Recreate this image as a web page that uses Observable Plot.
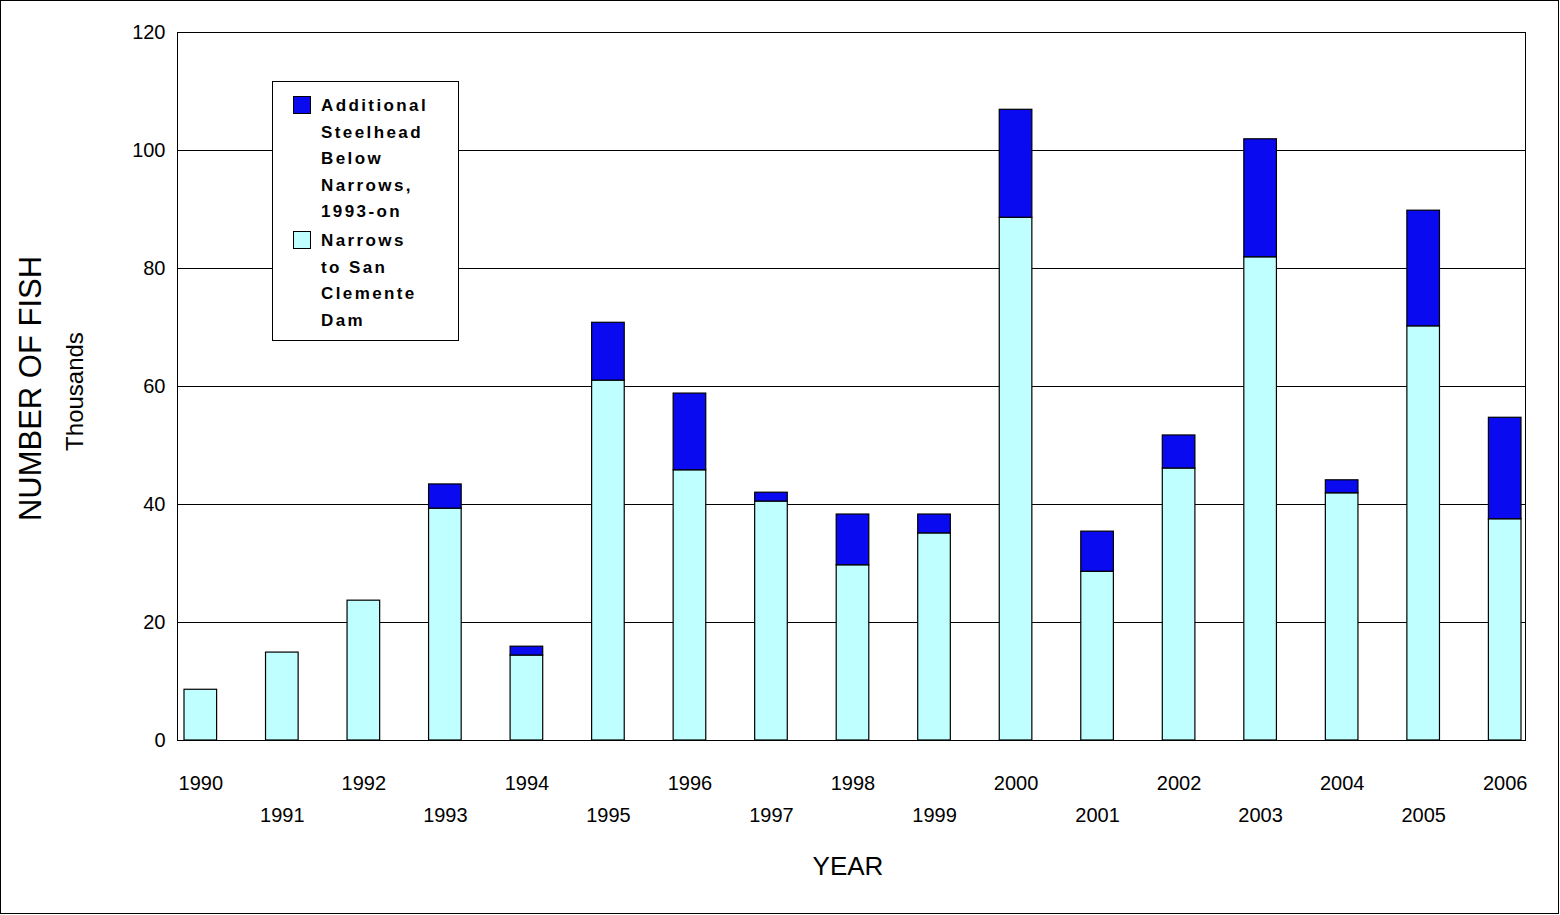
<!DOCTYPE html>
<html><head><meta charset="utf-8">
<script src="https://cdn.jsdelivr.net/npm/d3@7"></script>
<script src="https://cdn.jsdelivr.net/npm/@observablehq/plot@0.6"></script>
<style>
body{margin:0;background:#fff;font-family:"Liberation Sans",Arial,sans-serif}
#wrap{position:relative;width:1560px;height:915px}
#border{position:absolute;left:0;top:0;width:1557px;height:912px;border:1px solid #000;pointer-events:none}
#legend{position:absolute;left:272px;top:81px;width:187px;height:260px;border:1px solid #000;background:#fff;box-sizing:border-box;font-weight:bold;font-size:17px;letter-spacing:2.4px;line-height:26.5px}
.item{position:absolute;left:20px}
.sw{position:absolute;width:18px;height:18px;border:1px solid #000;box-sizing:border-box;top:3px}
.lt{position:absolute;left:28px;white-space:nowrap}
</style></head><body>
<div id="wrap"><div id="chart"></div><div id="border"></div>
<div id="legend">
<div class="item" style="top:11px"><div class="sw" style="background:#0A0AF0"></div><div class="lt">Additional<br>Steelhead<br>Below<br>Narrows,<br>1993-on</div></div>
<div class="item" style="top:146px"><div class="sw" style="background:#C0FFFF"></div><div class="lt">Narrows<br>to San<br>Clemente<br>Dam</div></div>
</div></div>
<script>
const years = [1990,1991,1992,1993,1994,1995,1996,1997,1998,1999,2000,2001,2002,2003,2004,2005,2006];
const narrows = [8.6,14.9,23.7,39.3,14.4,61.0,45.8,40.5,29.7,35.1,88.6,28.6,46.1,81.9,41.9,70.2,37.5];
const additional = [0,0,0,4.1,1.5,9.8,13.0,1.5,8.6,3.2,18.3,6.8,5.6,20.0,2.2,19.6,17.2];
const yTicks = [0,20,40,60,80,100,120];

const data = [];
years.forEach((y,i)=>{
  data.push({year:String(y), series:"Narrows", value:narrows[i]});
  data.push({year:String(y), series:"Additional", value:additional[i]});
});
const even = years.filter(y=>y%2===0).map(String);
const odd = years.filter(y=>y%2===1).map(String);

const chart = Plot.plot({
  width:1560, height:915,
  marginLeft:177, marginRight:35, marginTop:32, marginBottom:175,
  style:{fontFamily:"Liberation Sans, Arial, sans-serif", fontSize:"20px", color:"#000"},
  x:{domain:years.map(String), range:[184,1521], round:false, paddingInner:0.6, paddingOuter:0, axis:null},
  y:{domain:[0,120], ticks:yTicks, label:null, tickSize:0, tickPadding:12, tickFormat:d=>d},
  color:{domain:["Narrows","Additional"], range:["#C0FFFF","#0A0AF0"]},
  marks:[
    Plot.ruleY(yTicks,{stroke:"#000",strokeWidth:1}),
    Plot.barY(data,{x:"year",y:"value",fill:"series",stroke:"#000",strokeWidth:1.2,order:["Narrows","Additional"]}),
    Plot.frame({stroke:"#000"}),
    Plot.text(even,{x:d=>d,y:0,dy:43,text:d=>d,fontSize:20}),
    Plot.text(odd,{x:d=>d,y:0,dy:75,text:d=>d,fontSize:20}),
    Plot.text(["YEAR"],{x:()=>"1998",y:0,dy:126,text:d=>d,fontSize:26,dx:-5}),
    Plot.text(["NUMBER OF FISH"],{frameAnchor:"left",textAnchor:"middle",dx:-146,dy:2,text:d=>d,rotate:-90,fontSize:31}),
    Plot.text(["Thousands"],{frameAnchor:"left",textAnchor:"middle",dx:-102,dy:5,text:d=>d,rotate:-90,fontSize:24})
  ]
});
document.getElementById("chart").appendChild(chart);
</script></body></html>
